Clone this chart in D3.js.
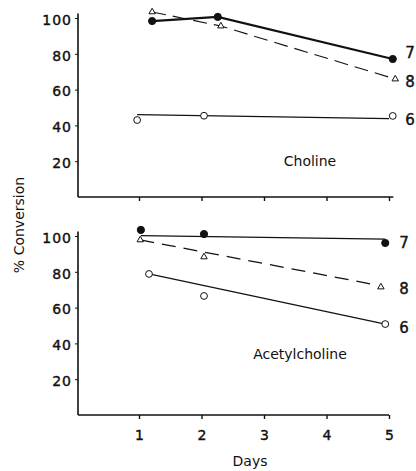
<!DOCTYPE html>
<html>
<head>
<meta charset="utf-8">
<script src="https://cdn.jsdelivr.net/npm/d3@7"></script>
<style>
	body { margin: 0; background: #fff; }
	text { font-family: "DejaVu Sans", sans-serif; fill: #111; }
	.axis path, .axis line { stroke: #111; }
	.heavy { stroke: #111; stroke-width: 0.4px; }
</style>
</head>
<body>
<script>
var days = [1, 2, 3, 4, 5];
var yTicks = [20, 40, 60, 80, 100];

// Choline panel
var chol7Days = [1.21, 2.26, 5.06], chol7 = [98.3, 100.6, 77.1];
var chol8Days = [1.21, 2.31, 5.1], chol8 = [103.4, 95.5, 65.9];
var chol6Days = [0.97, 2.04, 5.06], chol6 = [43, 45.4, 45.3];
var chol6FitDays = [0.97, 5.0], chol6Fit = [46, 43.8];

// Acetylcholine panel
var acet7Days = [1.03, 2.04, 4.94], acet7 = [103.4, 101.1, 96.1];
var acet7FitDays = [1.03, 4.94], acet7Fit = [100.2, 98.3];
var acet8Days = [1.02, 2.04, 4.87], acet8 = [97.8, 88.3, 71.5];
var acet8FitDays = [1.02, 4.82], acet8Fit = [97.8, 72.5];
var acet6Days = [1.16, 2.04, 4.94], acet6 = [78.8, 66.5, 50.8];
var acet6FitDays = [1.16, 4.94], acet6Fit = [78.8, 50.8];

var width = 416, height = 471;
var svg = d3.select("body").append("svg")
	.attr("width", width)
	.attr("height", height);

var x = d3.scaleLinear().domain([1, 5]).range([139, 389]);
var yTop = d3.scaleLinear().domain([0, 100]).range([197, 18]);
var yBot = d3.scaleLinear().domain([0, 100]).range([415, 236]);

function zip(xs, ys) { return xs.map(function (d, i) { return [d, ys[i]] }); }

function panel(y, xEnd, showLabels) {
	var g = svg.append("g");
	// axis lines
	g.append("line").attr("x1", 78).attr("x2", 78)
		.attr("y1", y(0)).attr("y2", y(102.5))
		.attr("stroke", "#111").attr("stroke-width", 1.6);
	g.append("line").attr("x1", 78).attr("x2", x(xEnd))
		.attr("y1", y(0)).attr("y2", y(0))
		.attr("stroke", "#111").attr("stroke-width", 1.6);

	var ya = g.append("g").attr("class", "axis")
		.attr("transform", "translate(78,0)")
		.call(d3.axisLeft(y).tickValues(yTicks).tickSize(3).tickPadding(3));
	ya.select(".domain").remove();
	ya.selectAll("text").attr("class", "heavy").style("font-size", "14px")
		.style("letter-spacing", "1px").attr("dy", "0.45em");

	var xa = g.append("g").attr("class", "axis")
		.attr("transform", "translate(0," + y(0) + ")")
		.call(d3.axisBottom(x).tickValues(days).tickSize(4).tickPadding(11)
			.tickFormat(showLabels ? d3.format("d") : ""));
	xa.select(".domain").remove();
	xa.selectAll("line").attr("stroke-width", 1.4);
	xa.selectAll("text").attr("class", "heavy").style("font-size", "14px");
	return g;
}

function drawLine(g, y, pts, w, dash) {
	var line = d3.line().x(function (d) { return x(d[0]) }).y(function (d) { return y(d[1]) });
	g.append("path").datum(pts)
		.attr("d", line)
		.attr("fill", "none")
		.attr("stroke", "#111")
		.attr("stroke-width", w)
		.attr("stroke-dasharray", dash || null);
}

function drawDots(g, y, pts, kind) {
	if (kind == "tri") {
		g.selectAll(null).data(pts).enter().append("path")
			.attr("d", d3.symbol().type(d3.symbolTriangle).size(18))
			.attr("transform", function (d) { return "translate(" + x(d[0]) + "," + y(d[1]) + ")" })
			.attr("fill", "#fff").attr("stroke", "#111").attr("stroke-width", 1);
	} else {
		g.selectAll(null).data(pts).enter().append("circle")
			.attr("cx", function (d) { return x(d[0]) })
			.attr("cy", function (d) { return y(d[1]) })
			.attr("r", kind == "filled" ? 3.6 : 3.4)
			.attr("fill", kind == "filled" ? "#111" : "#fff")
			.attr("stroke", "#111").attr("stroke-width", 1);
	}
}

function seriesLabel(g, xp, yp, txt) {
	g.append("text").attr("x", xp).attr("y", yp)
		.attr("class", "heavy")
		.attr("text-anchor", "middle").attr("dy", "0.35em")
		.style("font-size", "15px")
		.text(txt);
}

/*************************************************/
var topPanel = panel(yTop, 5.07, false);
drawLine(topPanel, yTop, zip(chol8Days, chol8), 1.1, "14,7");
drawLine(topPanel, yTop, zip(chol7Days, chol7), 2.2);
drawLine(topPanel, yTop, zip(chol6FitDays, chol6Fit), 1.3);
drawDots(topPanel, yTop, zip(chol7Days, chol7), "filled");
drawDots(topPanel, yTop, zip(chol8Days, chol8), "tri");
drawDots(topPanel, yTop, zip(chol6Days, chol6), "open");
seriesLabel(topPanel, 410, 53, "7");
seriesLabel(topPanel, 410, 82, "8");
seriesLabel(topPanel, 410, 120, "6");
topPanel.append("text").attr("x", 310).attr("y", yTop(20)).attr("dy", "0.35em")
	.attr("text-anchor", "middle").style("font-size", "14px").text("Choline");

/*************************************************/
var botPanel = panel(yBot, 5.0, true);
drawLine(botPanel, yBot, zip(acet8FitDays, acet8Fit), 1.3, "14,8");
drawLine(botPanel, yBot, zip(acet7FitDays, acet7Fit), 1.3);
drawLine(botPanel, yBot, zip(acet6FitDays, acet6Fit), 1.2);
drawDots(botPanel, yBot, zip(acet7Days, acet7), "filled");
drawDots(botPanel, yBot, zip(acet8Days, acet8), "tri");
drawDots(botPanel, yBot, zip(acet6Days, acet6), "open");
seriesLabel(botPanel, 404, 243, "7");
seriesLabel(botPanel, 404, 289, "8");
seriesLabel(botPanel, 404, 328, "6");
botPanel.append("text").attr("x", 300).attr("y", yBot(34)).attr("dy", "0.35em")
	.attr("text-anchor", "middle").style("font-size", "14px").text("Acetylcholine");

svg.append("text").attr("x", 250).attr("y", 466)
	.attr("text-anchor", "middle").style("font-size", "14px")
	.text("Days");

svg.append("text")
	.attr("transform", "translate(19,225) rotate(-90)")
	.attr("text-anchor", "middle").attr("dy", "0.35em")
	.style("font-size", "14px")
	.text("% Conversion");
</script>
</body>
</html>
